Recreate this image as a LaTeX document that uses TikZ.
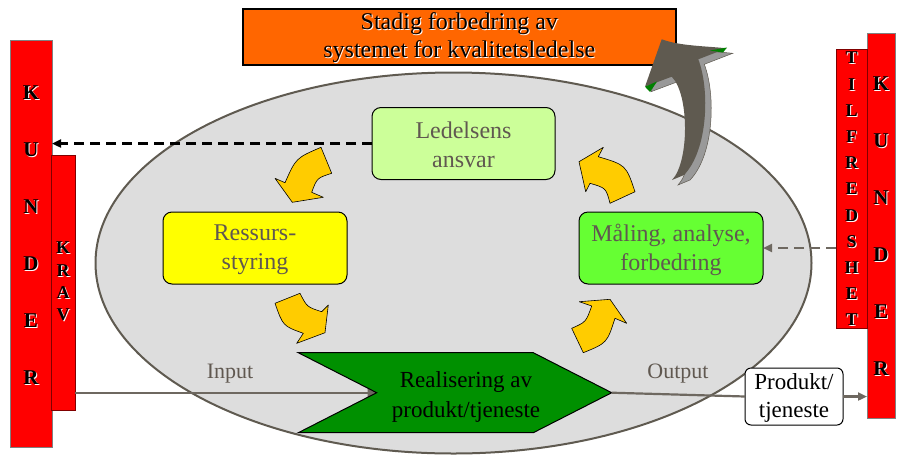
\documentclass[tikz,border=0pt]{standalone}
\usepackage{fontspec}
\setmainfont{Liberation Serif}
\usetikzlibrary{arrows.meta,shapes.geometric}
\definecolor{kred}{HTML}{FF0000}
\definecolor{dgray}{HTML}{5F5A50}
\definecolor{ellfill}{HTML}{DDDDDD}
\definecolor{orng}{HTML}{FF6600}
\definecolor{ledc}{HTML}{CCFF99}
\definecolor{malc}{HTML}{66FF33}
\definecolor{resc}{HTML}{FFFF00}
\definecolor{realc}{HTML}{009000}
\definecolor{arry}{HTML}{FFCC00}
\definecolor{txtg}{HTML}{605850}
\definecolor{linec}{HTML}{6E6860}
\definecolor{bevel}{HTML}{999999}
\definecolor{bevgreen}{HTML}{008000}
\begin{document}
\begin{tikzpicture}[x=1pt,y=-1pt,
  every node/.style={inner sep=0pt,outer sep=0pt},
  kbar/.style={fill=kred,draw=gray,line width=1pt},
  dbar/.style={fill=kred,draw=kred!50!black,line width=1pt},
  lt/.style={font=\bfseries\fontsize{21}{21}\selectfont,text=black},
  ltw/.style={font=\bfseries\fontsize{21}{21}\selectfont,text=white},
  st/.style={font=\bfseries\fontsize{18}{18}\selectfont,text=black},
  stw/.style={font=\bfseries\fontsize{18}{18}\selectfont,text=white},
  pbox/.style={rounded corners=9pt,draw=black,line width=1pt,minimum width=184pt,minimum height=72pt},
  btxt/.style={text=txtg,align=center,font=\fontsize{24}{29}\selectfont},
  yarrow/.style={fill=arry,draw=black,line width=0.6pt,line join=round},
  gline/.style={draw=linec,line width=2.2pt},
  tip/.style={-{Triangle[length=9pt,width=8pt]}}
]
\useasboundingbox (0,0) rectangle (897,456);

% ellipse
\node[ellipse,fill=ellfill,draw=dgray,line width=2pt,minimum width=716pt,minimum height=381pt] (ell) at (453.5,263) {};

% left KUNDER bar
\node[kbar,minimum width=42pt,minimum height=407pt] (kundL) at (31,243.5) {};
\foreach \l [count=\i from 0] in {K,U,N,D,E,R}{
  \node[ltw] (klw\i) at (32,{94+57*\i}) {\l};
  \node[lt] (kl\i) at (31,{93+57*\i}) {\l};
}
% KRAV bar
\node[dbar,minimum width=24pt,minimum height=255pt] (krav) at (63,283) {};
\foreach \l [count=\i from 0] in {K,R,A,V}{
  \node[stw] (krw\i) at (64,{249+22.3*\i}) {\l};
  \node[st] (kr\i) at (63,{248+22.3*\i}) {\l};
}
% right KUNDER bar
\node[kbar,minimum width=28pt,minimum height=385pt] (kundR) at (881,225.5) {};
\foreach \l [count=\i from 0] in {K,U,N,D,E,R}{
  \node[ltw] (krrw\i) at (882,{84.5+57*\i}) {\l};
  \node[lt] (krr\i) at (881,{83.5+57*\i}) {\l};
}
% TILFREDSHET bar
\node[dbar,minimum width=31pt,minimum height=279pt] (tilf) at (851.5,188.5) {};
\foreach \l [count=\i from 0] in {T,I,L,F,R,E,D,S,H,E,T}{
  \node[stw] (tfw\i) at (852.5,{59+26.2*\i}) {\l};
  \node[st] (tf\i) at (851.5,{58+26.2*\i}) {\l};
}

% orange box
\node[fill=orng,draw=black,line width=2pt,minimum width=433pt,minimum height=56pt] (org) at (459.3,37) {};
\node[text=white,align=center,font=\fontsize{24}{28}\selectfont] (orgw) at (460.3,39) {Stadig forbedring av\\systemet for kvalitetsledelse};
\node[text=black,align=center,font=\fontsize{24}{28}\selectfont] (orgt) at (459.3,38) {Stadig forbedring av\\systemet for kvalitetsledelse};

% boxes
\node[pbox,fill=ledc,minimum width=183pt] (led) at (463.5,143.5) {};
\node[btxt] (ledt) at (463.5,145) {Ledelsens\\ansvar};
\node[pbox,fill=resc] (res) at (255,248) {};
\node[btxt] (rest) at (255,249.5) {Ressurs-\\styring};
\node[pbox,fill=malc] (mal) at (671,248) {};
\node[btxt] (malt) at (671,249.5) {Måling, analyse,\\forbedring};

% yellow curved arrows
\draw[yarrow] (321,147.3) .. controls (296,158) .. (285,182.7) -- (275,178.3) -- (292.3,202.3) -- (323.3,197.3) -- (311.7,192.3) .. controls (317,178) .. (331.7,173.3) -- cycle;
\draw[yarrow] (275,303.3) .. controls (283,326) .. (303.3,333.3) -- (296.7,343.3) -- (325,332.7) -- (328.3,305) -- (321.7,311.7) .. controls (307,307) .. (300,293.3) -- cycle;
\draw[yarrow] (571.7,328.3) .. controls (586,322) .. (591.7,306) -- (579.3,301.7) -- (610,299.3) -- (626.7,323.3) -- (615,318.3) .. controls (607,343) .. (583.3,352.7) -- cycle;
\draw[yarrow] (610,203.3) .. controls (606,188) .. (590,183.3) -- (585.7,191.7) -- (579,161.7) -- (603.3,147.3) -- (598.3,156.7) .. controls (626,165) .. (635,191.7) -- cycle;

% big grey 3D arrow
\begin{scope}[shift={(6,5)}]
\fill[bevel,draw=dgray,line width=0.5pt] (672,180) .. controls (689.4,162) and (689.4,94) .. (671.7,76.7) -- (645,86.7) -- (661.7,39.3) .. controls (680,46) and (705,46) .. (726.7,48.3) -- (698.3,59.3) .. controls (710,90) and (708,150) .. (684,175) -- cycle;
\end{scope}
\fill[dgray] (672,180) .. controls (689.4,162) and (689.4,94) .. (671.7,76.7) -- (645,86.7) -- (661.7,39.3) .. controls (680,46) and (705,46) .. (726.7,48.3) -- (698.3,59.3) .. controls (710,90) and (708,150) .. (684,175) -- cycle;
\fill[bevgreen] (645,86.7) -- (657,81.5) -- (650,92) -- cycle;
\fill[bevgreen] (710,50.5) -- (727,47.5) -- (723,52.5) -- cycle;

% chevron
\coordinate (ctl) at (298.3,352.7);
\coordinate (ctr) at (533.3,352.7);
\coordinate (ctip) at (611.7,392.7);
\coordinate (cbr) at (533.3,432.7);
\coordinate (cbl) at (298.3,432.7);
\coordinate (cnotch) at (376.7,392.7);
\draw[gline,tip] (krav.east |- cnotch) -- (cnotch);
\draw[fill=realc,draw=black,line width=1pt] (ctl) -- (ctr) -- (ctip) -- (cbr) -- (cbl) -- (cnotch) -- cycle;
\node[text=black,align=center,font=\fontsize{23}{30}\selectfont] (realt) at (466,397) {Realisering av\\produkt/tjeneste};

% product box
\node[draw=black,fill=white,rounded corners=6pt,line width=1pt,minimum width=98pt,minimum height=57pt] (prod) at (794,396.5) {};
\node[text=black,align=center,font=\fontsize{23}{28}\selectfont] (prodt) at (794,397.5) {Produkt/\\tjeneste};
\draw[gline] (ctip) -- (prod.west);
\draw[gline,tip] (prod.east) -- (prod.east -| kundR.west);

\node[text=txtg,font=\fontsize{22}{22}\selectfont] (inl) at (230,374) {Input};
\node[text=txtg,font=\fontsize{22}{22}\selectfont] (outl) at (678,374) {Output};

% dashed connectors
\draw[black,line width=2.5pt,dash pattern=on 10pt off 6pt,tip] (led.west) -- (led.west -| kundL.east);
\draw[linec,line width=2.5pt,dash pattern=on 10pt off 6pt,tip] (mal.east -| tilf.west) -- (mal.east);
\end{tikzpicture}
\end{document}
